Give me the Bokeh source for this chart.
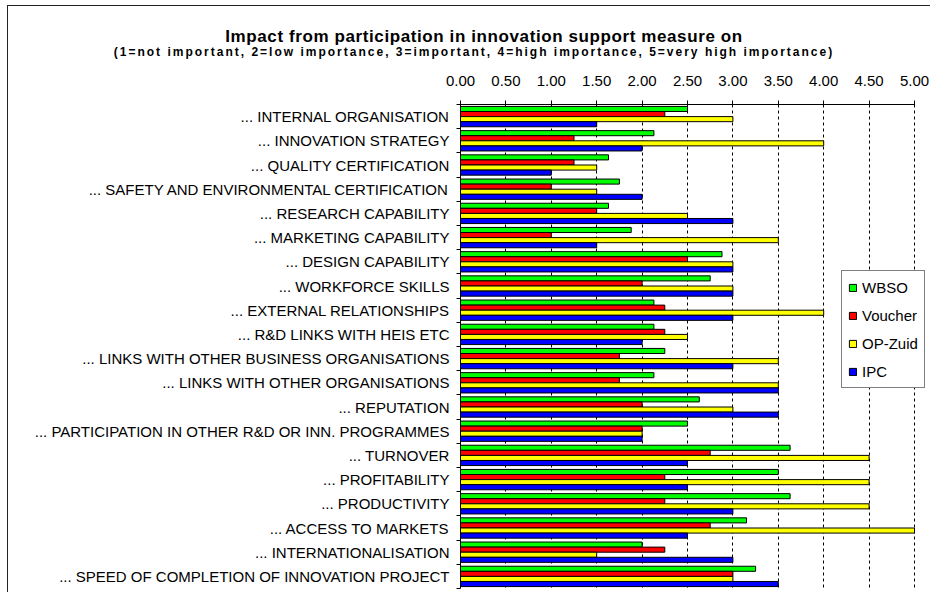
from bokeh.plotting import figure
from bokeh.layouts import column
from bokeh.models import (Range1d, FixedTicker, Legend, LegendItem, Div,
                          NumeralTickFormatter, ColumnDataSource)
from bokeh.embed import file_html
from bokeh.resources import INLINE

# Impact items (top to bottom)
categories = [
    "... INTERNAL ORGANISATION",
    "... INNOVATION STRATEGY",
    "... QUALITY CERTIFICATION",
    "... SAFETY AND ENVIRONMENTAL CERTIFICATION",
    "... RESEARCH CAPABILITY",
    "... MARKETING CAPABILITY",
    "... DESIGN CAPABILITY",
    "... WORKFORCE SKILLS",
    "... EXTERNAL RELATIONSHIPS",
    "... R&D LINKS WITH HEIS ETC",
    "... LINKS WITH OTHER BUSINESS ORGANISATIONS",
    "... LINKS WITH OTHER ORGANISATIONS",
    "... REPUTATION",
    "... PARTICIPATION IN OTHER R&D OR INN. PROGRAMMES",
    "... TURNOVER",
    "... PROFITABILITY",
    "... PRODUCTIVITY",
    "... ACCESS TO MARKETS",
    "... INTERNATIONALISATION",
    "... SPEED OF COMPLETION OF INNOVATION PROJECT",
]

# Mean scores per support measure
wbso = [2.50, 2.13, 1.63, 1.75, 1.63, 1.88, 2.88, 2.75, 2.13, 2.13,
        2.25, 2.13, 2.63, 2.50, 3.63, 3.50, 3.63, 3.15, 2.00, 3.25]
voucher = [2.25, 1.25, 1.25, 1.00, 1.50, 1.00, 2.50, 2.00, 2.25, 2.25,
           1.75, 1.75, 2.00, 2.00, 2.75, 2.25, 2.25, 2.75, 2.25, 3.00]
opzuid = [3.00, 4.00, 1.50, 1.50, 2.50, 3.50, 3.00, 3.00, 4.00, 2.50,
          3.50, 3.50, 3.00, 2.00, 4.50, 4.50, 4.50, 5.00, 1.50, 3.00]
ipc = [1.50, 2.00, 1.00, 2.00, 3.00, 1.50, 3.00, 3.00, 3.00, 2.00,
       3.00, 3.50, 3.50, 2.00, 2.50, 2.50, 3.00, 2.50, 3.00, 3.50]

series_names = ["WBSO", "Voucher", "OP-Zuid", "IPC"]
series_values = [wbso, voucher, opzuid, ipc]
series_colors = ["#00FF00", "#FF0000", "#FFFF00", "#0000FF"]

x_ticks = [0.0, 0.5, 1.0, 1.5, 2.0, 2.5, 3.0, 3.5, 4.0, 4.5, 5.0]

title_text = "Impact from participation in innovation support measure on"
subtitle_text = ("(1=not important, 2=low importance, 3=important, "
                 "4=high importance, 5=very high importance)")

FONT = "Liberation Sans"
n = len(categories)
bar_h = 0.21

W = 922            # inner width of the bordered chart box
HEAD_H = 62        # heading strip above the plot
PLOT_H = 524
FRAME_LEFT, FRAME_TOP = 452, 36
px_per_unit = 90.8
x_end = (W - FRAME_LEFT) / px_per_unit   # room on the right for the legend

# Heading lines
head = Div(width=W, height=HEAD_H, margin=0, text=f"""
<div style="position:relative;width:{W}px;height:{HEAD_H}px;font-family:'{FONT}';color:black;">
  <div style="position:absolute;left:476px;top:31px;transform:translate(-50%,-50%);
              white-space:nowrap;font-weight:bold;font-size:17px;letter-spacing:0.6px;">{title_text}</div>
  <div style="position:absolute;left:466px;top:47px;transform:translate(-50%,-50%);
              white-space:nowrap;font-weight:bold;font-size:12px;letter-spacing:2.0px;">{subtitle_text}</div>
</div>""")

p = figure(width=W, height=PLOT_H, output_backend="svg", toolbar_location=None,
           x_range=Range1d(0, x_end), y_range=Range1d(n, 0),
           x_axis_location="above", title=None, margin=0,
           min_border_left=FRAME_LEFT, min_border_right=0,
           min_border_top=FRAME_TOP, min_border_bottom=4)
p.outline_line_color = None
p.background_fill_color = "white"
p.border_fill_color = "white"

renderers = []
for k, (name, vals, col) in enumerate(zip(series_names, series_values, series_colors)):
    ys = [i + 0.5 + (k - 1.5) * bar_h for i in range(n)]
    src = ColumnDataSource(dict(y=ys, right=vals))
    r = p.hbar(y="y", right="right", left=0, height=bar_h, source=src,
               fill_color=col, line_color="black", line_width=1)
    renderers.append(r)

# Top value axis
xa = p.xaxis[0]
xa.ticker = FixedTicker(ticks=x_ticks, minor_ticks=[])
xa.bounds = (0, 5)
xa.formatter = NumeralTickFormatter(format="0.00")
xa.major_label_text_font = FONT
xa.major_label_text_font_size = "15px"
xa.major_label_text_color = "black"
xa.major_label_standoff = 15
xa.major_tick_out = 4
xa.major_tick_in = 2
xa.axis_line_color = "black"
xa.major_tick_line_color = "black"

# Category axis: labels centred, ticks on the boundaries
ya = p.yaxis[0]
centers = [i + 0.5 for i in range(n)]
ya.ticker = FixedTicker(ticks=centers, minor_ticks=list(range(n + 1)))
ya.major_label_overrides = {c: lab for c, lab in zip(centers, categories)}
ya.major_label_text_font = FONT
ya.major_label_text_font_size = "15px"
ya.major_label_text_color = "black"
ya.major_label_standoff = 7
ya.major_tick_out = 0
ya.major_tick_in = 0
ya.minor_tick_out = 4
ya.minor_tick_in = 0
ya.minor_tick_line_color = "black"
ya.axis_line_color = "black"

p.ygrid.visible = False
p.xgrid.ticker = FixedTicker(ticks=x_ticks)
p.xgrid.grid_line_color = "black"
p.xgrid.grid_line_dash = "3 3"
p.xgrid.grid_line_width = 1

legend = Legend(items=[LegendItem(label=nm, renderers=[r])
                       for nm, r in zip(series_names, renderers)],
                location=(381, 200))
legend.label_text_font = FONT
legend.label_text_font_size = "15px"
legend.label_text_color = "black"
legend.glyph_width = 9
legend.glyph_height = 9
legend.label_standoff = 5
legend.label_height = 20
legend.spacing = 8
legend.padding = 6
legend.margin = 0
legend.border_line_color = "black"
legend.border_line_width = 1
legend.background_fill_color = "white"
legend.background_fill_alpha = 1
p.add_layout(legend, "center")

layout = column(head, p, spacing=0, margin=(5, 0, 0, 7),
                styles={"border-left": "1px solid #222222",
                        "border-top": "1px solid #222222",
                        "background-color": "white"})

open("out.html", "w").write(file_html(layout, INLINE))
